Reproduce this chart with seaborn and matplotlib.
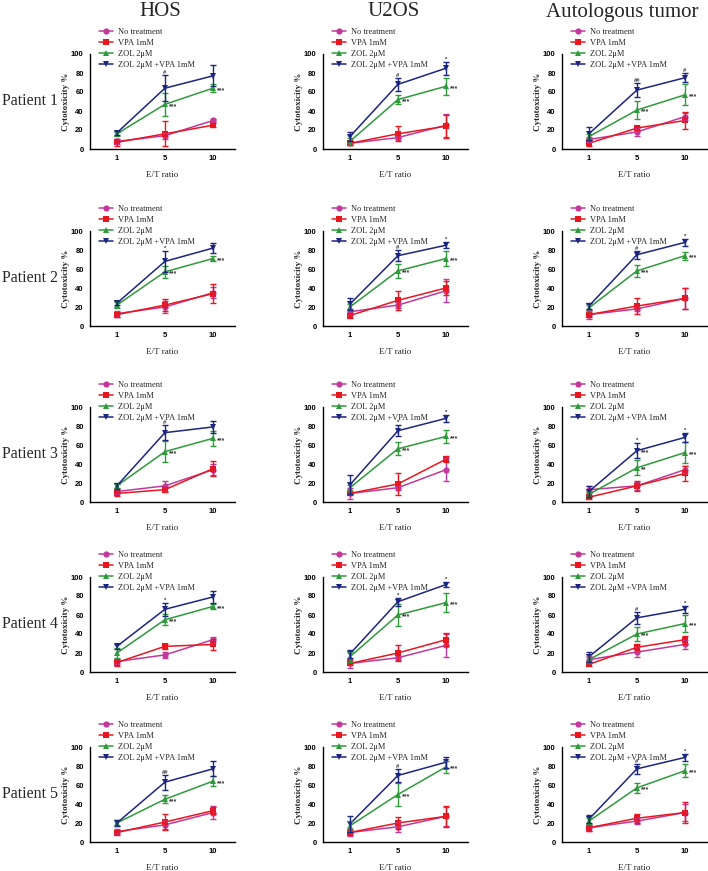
import numpy as np
import pandas as pd
import matplotlib
matplotlib.use('Agg')
import matplotlib.pyplot as plt
import seaborn as sns

# ---- data (rows = Patient 1..5, columns = E/T ratio 1, 5, 10) ----
et_ratio = ['1', '5', '10']
cell_lines = ['HOS', 'U2OS', 'Autologous tumor']
patients = ['Patient 1', 'Patient 2', 'Patient 3', 'Patient 4', 'Patient 5']
groups = ['No treatment', 'VPA 1mM', 'ZOL 2μM', 'ZOL 2μM +VPA 1mM']

# HOS
hos_nt = [[8, 14, 30], [13, 20, 35], [11, 17, 34], [11, 18, 34], [11, 18, 31]]
hos_nt_sd = [[3, 3, 2], [3, 6, 6], [3, 5, 6], [3, 3, 3], [3, 4, 7]]
hos_vpa = [[7, 16, 25], [12, 22, 34], [9, 13, 35], [10, 27, 29], [10, 21, 33]]
hos_vpa_sd = [[4, 13, 2], [3, 6, 10], [3, 3, 8], [4, 3, 6], [3, 8, 4]]
hos_zol = [[16, 47, 64], [22, 57, 71], [17, 53, 67], [20, 55, 69], [20, 45, 64]]
hos_zol_sd = [[2, 12, 4], [3, 6, 3], [2, 11, 8], [5, 6, 3], [3, 4, 5]]
hos_combo = [[17, 64, 77], [24, 68, 82], [17, 73, 79], [27, 66, 79], [20, 63, 77]]
hos_combo_sd = [[2, 14, 11], [2, 11, 5], [3, 8, 6], [3, 7, 6], [3, 8, 8]]

# U2OS
u2os_nt = [[6, 12, 25], [15, 22, 37], [9, 15, 34], [9, 15, 28], [10, 16, 27]]
u2os_nt_sd = [[2, 2, 12], [3, 3, 12], [6, 2, 12], [5, 2, 12], [4, 5, 10]]
u2os_vpa = [[6, 16, 24], [11, 27, 40], [9, 19, 45], [9, 20, 34], [10, 20, 27]]
u2os_vpa_sd = [[2, 8, 12], [3, 10, 7], [2, 12, 3], [2, 8, 7], [3, 6, 11]]
u2os_zol = [[8, 52, 66], [20, 58, 71], [15, 56, 69], [16, 60, 73], [17, 50, 79]]
u2os_zol_sd = [[4, 5, 9], [3, 7, 8], [3, 7, 7], [5, 12, 10], [5, 12, 6]]
u2os_combo = [[13, 68, 85], [23, 74, 85], [18, 75, 88], [19, 74, 92], [19, 70, 84]]
u2os_combo_sd = [[5, 7, 7], [6, 6, 3], [10, 6, 4], [4, 4, 3], [8, 7, 6]]

# Autologous tumor
auto_nt = [[10, 18, 34], [12, 18, 29], [13, 17, 34], [13, 21, 29], [15, 22, 31]]
auto_nt_sd = [[3, 4, 4], [5, 2, 11], [4, 4, 4], [4, 5, 5], [3, 3, 9]]
auto_vpa = [[6, 22, 30], [12, 21, 29], [5, 17, 30], [8, 26, 34], [15, 25, 31]]
auto_vpa_sd = [[3, 2, 9], [3, 8, 11], [2, 5, 8], [2, 3, 4], [3, 5, 11]]
auto_zol = [[13, 41, 57], [19, 58, 74], [8, 36, 52], [13, 40, 51], [22, 57, 75]]
auto_zol_sd = [[3, 9, 11], [3, 6, 4], [3, 8, 11], [3, 7, 9], [3, 5, 7]]
auto_combo = [[16, 62, 75], [21, 75, 88], [11, 54, 68], [16, 57, 66], [24, 77, 89]]
auto_combo_sd = [[7, 7, 5], [3, 4, 4], [6, 8, 5], [5, 6, 4], [4, 5, 4]]

means = {
    'HOS': [hos_nt, hos_vpa, hos_zol, hos_combo],
    'U2OS': [u2os_nt, u2os_vpa, u2os_zol, u2os_combo],
    'Autologous tumor': [auto_nt, auto_vpa, auto_zol, auto_combo],
}
sds = {
    'HOS': [hos_nt_sd, hos_vpa_sd, hos_zol_sd, hos_combo_sd],
    'U2OS': [u2os_nt_sd, u2os_vpa_sd, u2os_zol_sd, u2os_combo_sd],
    'Autologous tumor': [auto_nt_sd, auto_vpa_sd, auto_zol_sd, auto_combo_sd],
}

# significance marks: (group index, E/T index, text, where)
hos_marks = [
    [(3, 1, '#', 'top'), (2, 1, '***', 'right'), (2, 2, '***', 'right')],
    [(3, 1, '*', 'top'), (2, 1, '***', 'right'), (2, 2, '***', 'right')],
    [(3, 1, '#', 'top'), (2, 1, '***', 'right'), (2, 2, '***', 'right')],
    [(3, 1, '*', 'top'), (2, 1, '***', 'right'), (2, 2, '***', 'right')],
    [(3, 1, '##', 'top'), (2, 1, '***', 'right'), (2, 2, '***', 'right')],
]
u2os_marks = [
    [(3, 1, '#', 'top'), (3, 2, '*', 'top'), (2, 1, '***', 'right'), (2, 2, '***', 'right')],
    [(3, 1, '#', 'top'), (3, 2, '*', 'top'), (2, 1, '***', 'right'), (2, 2, '***', 'right')],
    [(3, 1, '*', 'top'), (3, 2, '*', 'top'), (2, 1, '***', 'right'), (2, 2, '***', 'right')],
    [(3, 1, '*', 'top'), (3, 2, '*', 'top'), (2, 1, '***', 'right'), (2, 2, '***', 'right')],
    [(3, 1, '#', 'top'), (2, 1, '***', 'right'), (2, 2, '***', 'right')],
]
auto_marks = [
    [(3, 1, '##', 'top'), (3, 2, '#', 'top'), (2, 1, '***', 'right'), (2, 2, '***', 'right')],
    [(3, 1, '#', 'top'), (3, 2, '*', 'top'), (2, 1, '***', 'right'), (2, 2, '***', 'right')],
    [(3, 1, '*', 'top'), (3, 2, '*', 'top'), (3, 1, '***', 'right'), (2, 1, '**', 'right'), (2, 2, '***', 'right')],
    [(3, 1, '#', 'top'), (3, 2, '*', 'top'), (2, 1, '***', 'right'), (2, 2, '***', 'right')],
    [(3, 1, '#', 'top'), (3, 2, '*', 'top'), (2, 1, '***', 'right'), (2, 2, '***', 'right')],
]
marks = {'HOS': hos_marks, 'U2OS': u2os_marks, 'Autologous tumor': auto_marks}

colors = ['#c2399b', '#e8171f', '#2f9a3c', '#1c2580']
markers = ['o', 's', '^', 'v']

sns.set_style('white')
serif = ['Liberation Serif', 'DejaVu Serif']
plt.rcParams['font.family'] = serif

W, H = 708, 871
fig = plt.figure(figsize=(W / 100, H / 100), dpi=100)

col_left = [90, 323, 562]
row_bottom = [149, 326, 502, 672, 842]
ax_w, ax_h = 145, 95

for c, line in enumerate(cell_lines):
    for r, pat in enumerate(patients):
        ax = fig.add_axes([col_left[c] / W, 1 - row_bottom[r] / H, ax_w / W, ax_h / H])
        rows = []
        for g, name in enumerate(groups):
            for i in range(3):
                rows.append({'pos': i, 'mean': means[line][g][r][i],
                             'sd': sds[line][g][r][i], 'group': name})
        df = pd.DataFrame(rows)

        sns.lineplot(data=df, x='pos', y='mean', hue='group', style='group',
                     hue_order=groups, style_order=groups, palette=colors,
                     markers=markers, dashes=False, markersize=4.5, linewidth=1.1,
                     markeredgewidth=0, ax=ax)
        for g, name in enumerate(groups):
            sub = df[df['group'] == name]
            ax.errorbar(sub['pos'], sub['mean'], yerr=sub['sd'], fmt='none',
                        ecolor=colors[g], elinewidth=1.0, capsize=2.2, capthick=1.0)

        for g, i, txt, where in marks[line][r]:
            m = means[line][g][r][i]
            s = sds[line][g][r][i]
            if where == 'top':
                ax.annotate(txt, (i, m + s), xytext=(0, 0), textcoords='offset points',
                            ha='center', va='bottom', fontsize=4.2, fontweight='bold',
                            family=['Liberation Sans'], color='#333333')
            else:
                ax.annotate(txt, (i, m), xytext=(3, -1.5), textcoords='offset points',
                            ha='left', va='center', fontsize=5, fontweight='bold',
                            family=['Liberation Sans'], color='#333333')

        ax.set_xlim(-0.56, 2.46)
        ax.set_ylim(0, 100)
        ax.set_xticks([0, 1, 2])
        ax.set_xticklabels(et_ratio)
        ax.set_yticks([0, 20, 40, 60, 80, 100])
        for lab in ax.get_xticklabels() + ax.get_yticklabels():
            lab.set_family(['Liberation Sans'])
            lab.set_fontweight('bold')
            lab.set_fontsize(5.5)
        ax.tick_params(direction='out', length=3, width=1, pad=1.5, colors='black')
        sns.despine(ax=ax)
        for sp in ['left', 'bottom']:
            ax.spines[sp].set_linewidth(1.0)
            ax.spines[sp].set_color('black')
        ax.set_xlabel('E/T ratio', fontsize=6.5, labelpad=6)
        ax.set_ylabel('Cytotoxicity %', fontsize=6.5, fontweight='bold', labelpad=1)

        sns.move_legend(ax, 'upper left', bbox_to_anchor=(0.06, 1.27), frameon=False,
                        title=None, fontsize=6, handlelength=1.7, handletextpad=0.6,
                        labelspacing=0.35, borderpad=0, borderaxespad=0)

# column titles and row labels
title_x = [160, 394, 622]
for c, line in enumerate(cell_lines):
    fig.text(title_x[c] / W, 1 - 12 / H, line, ha='center', va='center', fontsize=15)
for r, pat in enumerate(patients):
    fig.text(30 / W, 1 - (row_bottom[r] - 48) / H, pat, ha='center', va='center', fontsize=11.5)

fig.savefig('out.png', dpi=100)
